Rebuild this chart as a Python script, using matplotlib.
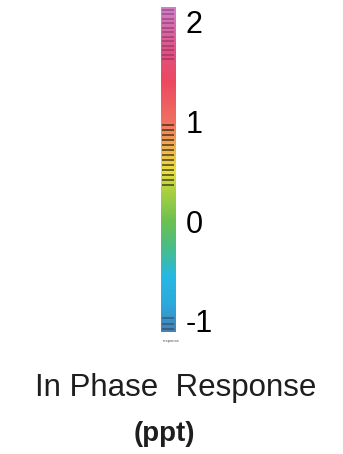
import numpy as np
import matplotlib
matplotlib.use('Agg')
import matplotlib.pyplot as plt
from matplotlib.colors import LinearSegmentedColormap, Normalize
from matplotlib.cm import ScalarMappable

plt.rcParams['font.family'] = ['Liberation Sans', 'DejaVu Sans']
plt.rcParams['axes.unicode_minus'] = False

# colour scale (value, colour)
vmin, vmax = -1.11, 2.15
stop_values = [-1.11, -0.85, -0.55, -0.3, 0.0, 0.3, 0.5, 0.75, 1.0, 1.4, 1.7, 2.15]
stop_colors = ['#4a7fb0', '#2ba8dc', '#28b8e2', '#44bc90', '#6cc050', '#a8d040',
               '#e8e040', '#f0b050', '#f07060', '#ec4860', '#e05080', '#d080c8']
tick_values = [-1, 0, 1, 2]
tick_labels = ['-1', '0', '1', '2']

# dark contour stripes drawn over the bar
top_stripes = [2.12, 2.08, 2.03, 1.99, 1.94, 1.90, 1.85, 1.81, 1.76, 1.72, 1.67, 1.63]
mid_stripes = [0.96, 0.91, 0.86, 0.81, 0.76, 0.71, 0.66, 0.61, 0.56, 0.51, 0.46, 0.41, 0.36]
low_stripes = [-0.97, -1.03, -1.08]

title = 'In Phase  Response'
units = '(ppt)'

fig = plt.figure(figsize=(3.43, 4.54), dpi=100)
cax = fig.add_axes([0.469, 0.269, 0.044, 0.716])

pos = [(v - vmin) / (vmax - vmin) for v in stop_values]
cmap = LinearSegmentedColormap.from_list('resp', list(zip(pos, stop_colors)))
sm = ScalarMappable(norm=Normalize(vmin, vmax), cmap=cmap)
cb = fig.colorbar(sm, cax=cax, ticks=tick_values)
cb.outline.set_visible(False)
cb.ax.set_yticklabels(tick_labels)
cb.ax.tick_params(length=0, labelsize=22, pad=7)

cax.hlines(top_stripes, 0.1, 0.9, color='#602050', alpha=0.45, lw=1.2)
cax.hlines(mid_stripes, 0.1, 0.9, color='#201808', alpha=0.7, lw=1.2)
cax.hlines(low_stripes, 0.1, 0.9, color='#203050', alpha=0.5, lw=1.2)

fig.text(0.474, 0.248, 'response', fontsize=3, color='#555555', ha='left', va='center')
fig.text(0.513, 0.145, title, fontsize=22.5, ha='center', va='center', color='#1e1e1e')
fig.text(0.48, 0.045, units, fontsize=20, fontweight='bold', ha='center', va='center', color='#1e1e1e')

fig.savefig('out.png', dpi=100)
